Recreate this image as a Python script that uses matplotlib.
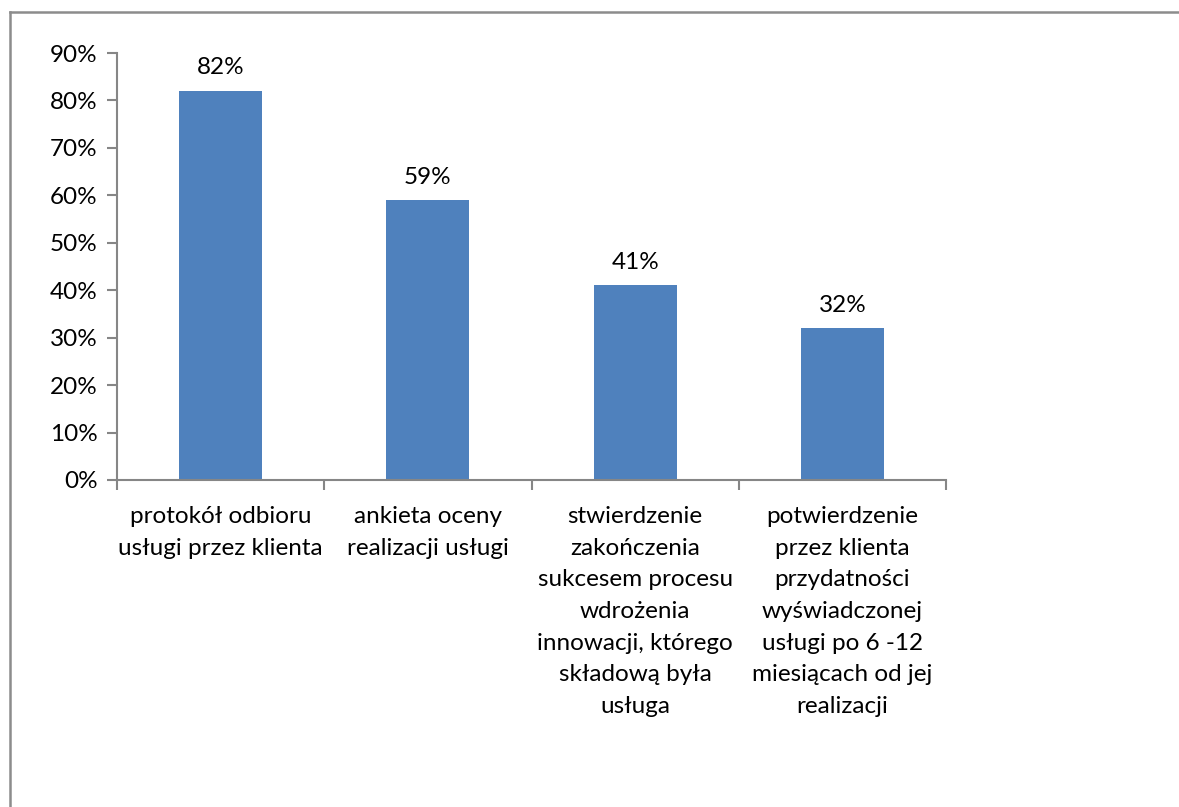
import matplotlib.pyplot as plt
from matplotlib.lines import Line2D
from matplotlib.ticker import FixedLocator, PercentFormatter

categories = [
    "protokół odbioru\nusługi przez klienta",
    "ankieta oceny\nrealizacji usługi",
    "stwierdzenie\nzakończenia\nsukcesem procesu\nwdrożenia\ninnowacji, którego\nskładową była\nusługa",
    "potwierdzenie\nprzez klienta\nprzydatności\nwyświadczonej\nusługi po 6 -12\nmiesiącach od jej\nrealizacji",
]
shares = [0.82, 0.59, 0.41, 0.32]
y_ticks = [0.0, 0.1, 0.2, 0.3, 0.4, 0.5, 0.6, 0.7, 0.8, 0.9]

bar_color = "#4F81BD"
axis_color = "#868686"
W, H = 1179, 807
fs = 17.5

plt.rcParams["font.family"] = ["Lato", "DejaVu Sans"]

fig = plt.figure(figsize=(W / 100, H / 100), dpi=100)
ax = fig.add_axes([117 / W, 1 - 480 / H, (946 - 117) / W, (480 - 53) / H])

x = list(range(len(categories)))
ax.bar(x, shares, width=0.4, color=bar_color)
for xi, v in zip(x, shares):
    ax.annotate(f"{v:.0%}", (xi, v), xytext=(0, 9), textcoords="offset points",
                ha="center", va="bottom", fontsize=fs)

ax.set_xlim(-0.5, len(categories) - 0.5)
ax.set_ylim(0, 0.9)
ax.set_yticks(y_ticks)
ax.yaxis.set_major_formatter(PercentFormatter(1.0, decimals=0))
ax.tick_params(axis="y", direction="out", length=7, width=1.5, color=axis_color,
               labelsize=fs, pad=7)

ax.set_xticks(x)
ax.set_xticklabels(categories, fontsize=fs, linespacing=1.62, va="top")
ax.tick_params(axis="x", which="major", length=0, pad=19)
ax.xaxis.set_minor_locator(FixedLocator([i - 0.5 for i in range(len(categories) + 1)]))
ax.tick_params(axis="x", which="minor", direction="out", length=7, width=1.5,
               color=axis_color)

for side in ("top", "right"):
    ax.spines[side].set_visible(False)
for side in ("left", "bottom"):
    ax.spines[side].set_color(axis_color)
    ax.spines[side].set_linewidth(1.5)

# outer chart frame (left and top edges)
fig.add_artist(Line2D([10 / W, 10 / W], [0, 1 - 12 / H], color="#8c8c8c", lw=1.8,
                      transform=fig.transFigure))
fig.add_artist(Line2D([10 / W, 1], [1 - 12 / H, 1 - 12 / H], color="#8c8c8c", lw=1.8,
                      transform=fig.transFigure))

fig.savefig("out.png", dpi=100)
